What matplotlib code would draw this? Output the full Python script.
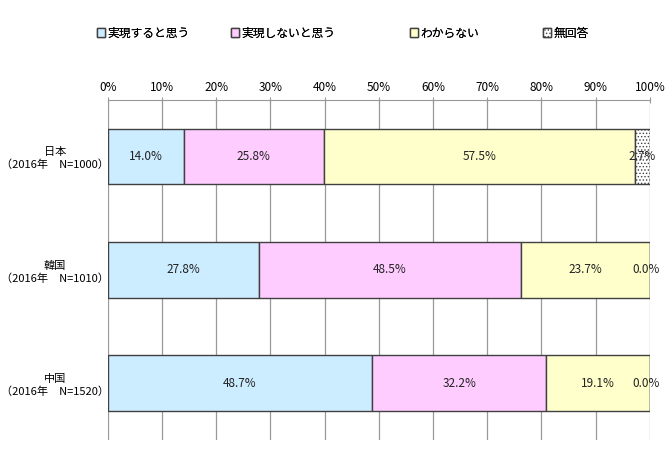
import matplotlib.pyplot as plt
import numpy as np

plt.rcParams['font.family'] = ['Noto Sans CJK JP', 'DejaVu Sans']
plt.rcParams['hatch.color'] = '#999999'
plt.rcParams['hatch.linewidth'] = 0.6

countries = ["日本\n（2016年　N=1000）", "韓国\n（2016年　N=1010）", "中国\n（2016年　N=1520）"]
series = ["実現すると思う", "実現しないと思う", "わからない", "無回答"]
values = [
    [14.0, 27.8, 48.7],
    [25.8, 48.5, 32.2],
    [57.5, 23.7, 19.1],
    [2.7, 0.0, 0.0],
]
colors = ["#CCECFF", "#FFCCFF", "#FFFFCC", "white"]
hatches = [None, None, None, "....."]
legend_x = [0.145, 0.345, 0.612, 0.810]

fig = plt.figure(figsize=(6.7, 4.54), dpi=100)
ax = fig.add_axes([0.161, 0.031, 0.809, 0.749])

y = np.arange(len(countries))
left = np.zeros(len(countries))
handles = []
for i, s in enumerate(series):
    v = np.array(values[i])
    b = ax.barh(y, v, left=left, height=0.49, color=colors[i], edgecolor="#404040",
                linewidth=1.0, hatch=hatches[i], label=s, zorder=3)
    handles.append(b)
    for j in range(len(countries)):
        xpos = left[j] + v[j] / 2 if v[j] > 0 else 99.2
        ax.text(xpos, y[j], f"{v[j]:.1f}%", ha="center", va="center",
                fontsize=8.5, color="#222222", zorder=4)
    left += v

ax.set_xlim(0, 100)
ax.set_ylim(2.5, -0.5)
ax.set_xticks(np.arange(0, 101, 10))
ax.set_xticklabels([f"{t}%" for t in range(0, 101, 10)], fontsize=8.5)
ax.xaxis.tick_top()
ax.tick_params(axis="x", length=5, color="#999999", pad=2, direction="inout")
ax.set_yticks(y)
ax.set_yticklabels(countries, fontsize=8, ha="center", linespacing=1.3)
ax.tick_params(axis="y", length=0, pad=38)
ax.grid(axis="x", color="#999999", linewidth=0.9, zorder=0)
for sp in ["right", "bottom", "left"]:
    ax.spines[sp].set_visible(False)
ax.spines["top"].set_color("#999999")

for h, s, lx in zip(handles, series, legend_x):
    lg = fig.legend(handles=[h], labels=[s], loc="center left",
                    bbox_to_anchor=(lx, 0.927), frameon=False, fontsize=8.5,
                    handlelength=0.7, handleheight=0.7, handletextpad=0.2,
                    borderpad=0, borderaxespad=0)
    fig.add_artist(lg)

fig.savefig("out.png", dpi=100)
